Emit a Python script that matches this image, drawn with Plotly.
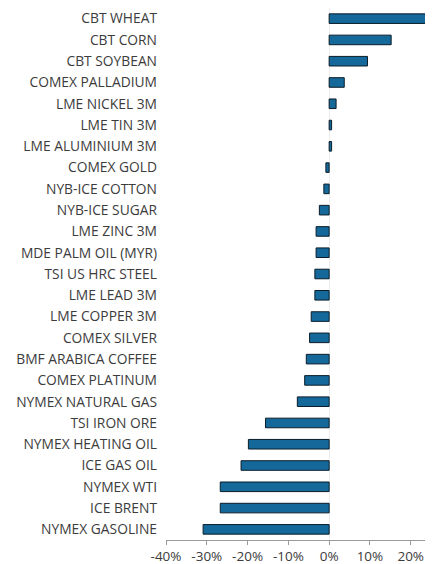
import plotly.graph_objects as go

# ─── DATA ────────────────────────────────────────────────────
COMMODITIES = [
    "CBT WHEAT", "CBT CORN", "CBT SOYBEAN", "COMEX PALLADIUM", "LME NICKEL 3M",
    "LME TIN 3M", "LME ALUMINIUM 3M", "COMEX GOLD", "NYB-ICE COTTON",
    "NYB-ICE SUGAR", "LME ZINC 3M", "MDE PALM OIL (MYR)", "TSI US HRC STEEL",
    "LME LEAD 3M", "LME COPPER 3M", "COMEX SILVER", "BMF ARABICA COFFEE",
    "COMEX PLATINUM", "NYMEX NATURAL GAS", "TSI IRON ORE", "NYMEX HEATING OIL",
    "ICE GAS OIL", "NYMEX WTI", "ICE BRENT", "NYMEX GASOLINE",
]
CHANGE_PCT = [
    24.5, 15.2, 9.4, 3.7, 1.7,
    0.6, 0.6, -0.8, -1.3,
    -2.4, -3.2, -3.2, -3.5,
    -3.5, -4.4, -4.8, -5.6,
    -6.0, -7.8, -15.6, -19.8,
    -21.6, -26.7, -26.7, -30.9,
]
X_TICKS = [-40, -30, -20, -10, 0, 10, 20]
X_TICK_LABELS = [f"{t}%" for t in X_TICKS]

# ─── STYLE ───────────────────────────────────────────────────
BAR_FILL = "#14689a"
BAR_EDGE = "#0b1c28"
TEXT = "#3c3c3c"
AXIS = "#9a9a9a"
FONT = "Open Sans, Segoe UI, sans-serif"

fig = go.Figure(go.Bar(
    x=CHANGE_PCT,
    y=COMMODITIES,
    orientation="h",
    marker=dict(color=BAR_FILL, line=dict(color=BAR_EDGE, width=1)),
    hovertemplate="%{y}: %{x:.1f}%<extra></extra>",
))

# page body adds an 8px margin, so the figure is sized to the visible area
fig.update_layout(
    width=417, height=556,
    paper_bgcolor="white",
    plot_bgcolor="white",
    font=dict(family=FONT, color=TEXT, size=13),
    margin=dict(l=158, r=0, t=0, b=24),
    bargap=0.55,
    showlegend=False,
    xaxis=dict(
        range=[-40, 23.5], automargin=False,
        tickvals=X_TICKS, ticktext=X_TICK_LABELS,
        showgrid=False, zeroline=True, zerolinecolor="#ececec", zerolinewidth=1,
        showline=True, linecolor=AXIS, linewidth=1,
        ticks="outside", ticklen=4, tickcolor=AXIS,
        tickfont=dict(size=13.5, color=TEXT),
    ),
    yaxis=dict(
        autorange="reversed", automargin=False,
        showgrid=False, showline=False, zeroline=False,
        ticks="", ticklabelstandoff=8,
        tickfont=dict(size=13.8, color=TEXT),
    ),
)

fig.write_html("out.html")
